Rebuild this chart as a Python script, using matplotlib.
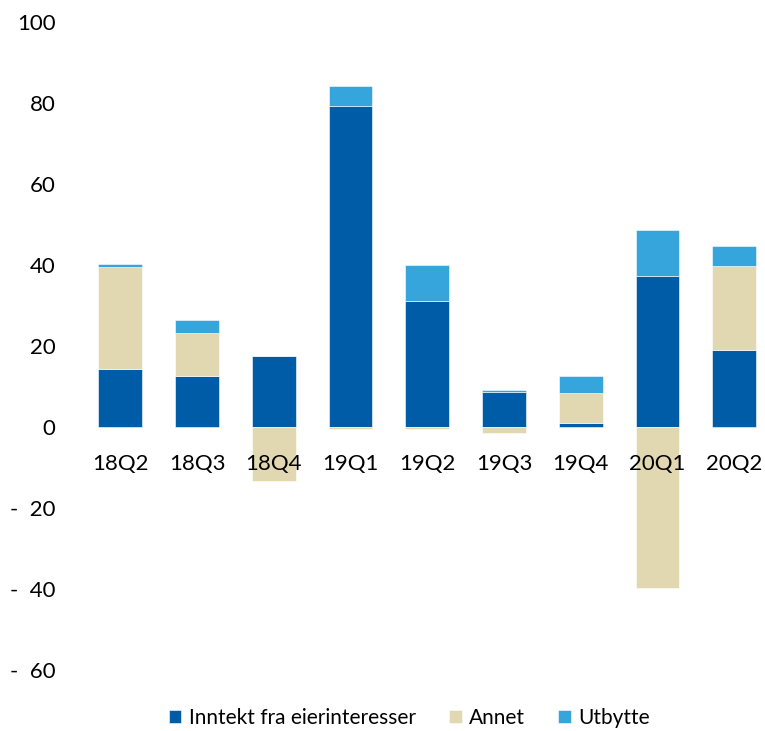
import numpy as np
import matplotlib
matplotlib.use("Agg")
import matplotlib.pyplot as plt

# data
quarters = ["18Q2", "18Q3", "18Q4", "19Q1", "19Q2", "19Q3", "19Q4", "20Q1", "20Q2"]
inntekt = [14.2, 12.7, 17.6, 79.2, 31.0, 8.7, 0.9, 37.4, 19.1]
annet = [25.2, 10.4, -13.3, -0.6, -0.6, -1.5, 7.4, -39.8, 20.7]
utbytte = [0.9, 3.4, 0.0, 4.9, 8.9, 0.5, 4.4, 11.2, 5.0]

series_names = ["Inntekt fra eierinteresser", "Annet", "Utbytte"]
colors = ["#005CA6", "#E1D8B1", "#35A5DC"]

plt.rcParams['font.family'] = ['Lato', 'DejaVu Sans']

fig = plt.figure(figsize=(7.65, 7.31), dpi=100)
W, H = 765, 731
ax = fig.add_axes([82 / W, (H - 670) / H, (W - 82) / W, (670 - 22) / H])

x = np.arange(len(quarters))
pos_base = np.zeros(len(quarters))
neg_base = np.zeros(len(quarters))
for vals, name, col in zip([inntekt, annet, utbytte], series_names, colors):
    v = np.array(vals)
    bottoms = np.where(v >= 0, pos_base, neg_base)
    ax.bar(x, v, 0.57, bottom=bottoms, color=col, label=name,
           edgecolor="white", linewidth=0.4)
    pos_base = pos_base + np.where(v >= 0, v, 0)
    neg_base = neg_base + np.where(v < 0, v, 0)

ax.set_xlim(-0.5, 8.4)
ax.set_ylim(-60, 100)
ax.set_xticks([])
yt = np.arange(-60, 101, 20)
ax.set_yticks(yt)
ax.set_yticklabels([("-  %d" % -t) if t < 0 else str(t) for t in yt], fontsize=16)
ax.tick_params(axis="y", length=0, pad=19)
for s in ax.spines.values():
    s.set_visible(False)

for i, q in enumerate(quarters):
    ax.annotate(q, (i, 0), xytext=(0, -31), textcoords="offset points",
                ha="center", va="baseline", fontsize=16)

fig.legend(loc="center", bbox_to_anchor=(0.535, 1 - 718 / H), ncol=3,
           frameon=False, fontsize=15, handlelength=0.6, handleheight=0.6,
           handletextpad=0.35, columnspacing=1.6)

fig.savefig("out.png", dpi=100)
